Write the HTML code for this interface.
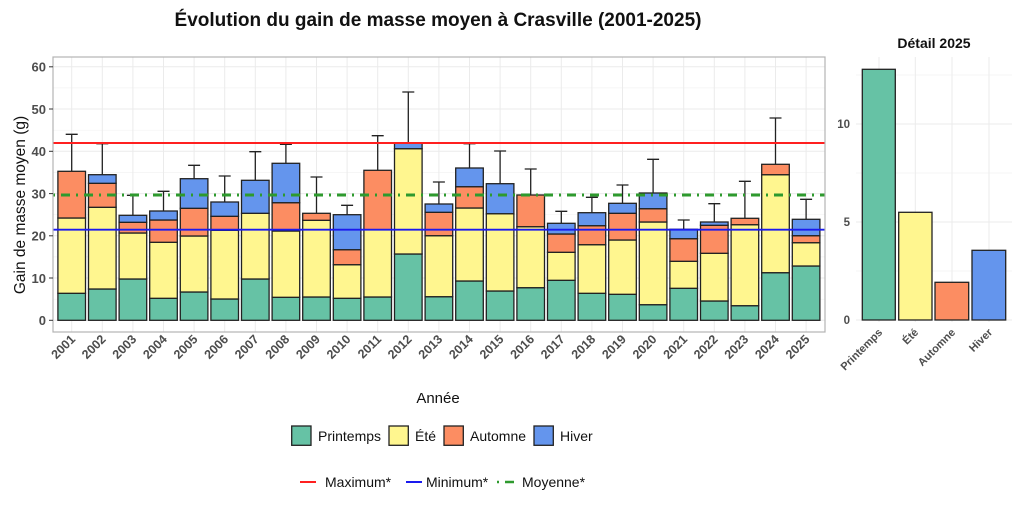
<!DOCTYPE html>
<html><head><meta charset="utf-8"><style>
body{margin:0;background:#fff;}
svg{display:block;font-family:"Liberation Sans",sans-serif;}
.g{stroke:#ebebeb;stroke-width:1}
.gm{stroke:#f3f3f3;stroke-width:0.7}
.s rect{stroke:#222;stroke-width:1.3}
.G{fill:#66c2a5}.Y{fill:#fff68f}.O{fill:#fc8d62}.B{fill:#6495ed}
.yt{font-size:13px;font-weight:bold;fill:#4d4d4d;text-anchor:end}
.xt{font-size:12.5px;font-weight:bold;fill:#4d4d4d;text-anchor:end}
.e{stroke:#222;stroke-width:1.3;fill:none}
</style></head><body>
<svg width="1024" height="512" viewBox="0 0 1024 512">
<rect width="1024" height="512" fill="#fff"/>
<text x="438" y="26" text-anchor="middle" font-size="19" font-weight="bold" fill="#111">Évolution du gain de masse moyen à Crasville (2001-2025)</text>
<!-- main panel -->
<rect x="53" y="57" width="772" height="275" fill="#fff"/>
<g class="gm">
<line x1="53" x2="825" y1="299.2" y2="299.2"/><line x1="53" x2="825" y1="256.9" y2="256.9"/><line x1="53" x2="825" y1="214.7" y2="214.7"/><line x1="53" x2="825" y1="172.4" y2="172.4"/><line x1="53" x2="825" y1="130.2" y2="130.2"/><line x1="53" x2="825" y1="87.9" y2="87.9"/>
</g>
<g class="g">
<line x1="53" x2="825" y1="320.3" y2="320.3"/><line x1="53" x2="825" y1="278" y2="278"/><line x1="53" x2="825" y1="235.8" y2="235.8"/><line x1="53" x2="825" y1="193.6" y2="193.6"/><line x1="53" x2="825" y1="151.3" y2="151.3"/><line x1="53" x2="825" y1="109" y2="109"/><line x1="53" x2="825" y1="66.8" y2="66.8"/>
<line x1="71.7" x2="71.7" y1="57" y2="332"/><line x1="102.3" x2="102.3" y1="57" y2="332"/><line x1="132.9" x2="132.9" y1="57" y2="332"/><line x1="163.5" x2="163.5" y1="57" y2="332"/><line x1="194.1" x2="194.1" y1="57" y2="332"/><line x1="224.7" x2="224.7" y1="57" y2="332"/><line x1="255.3" x2="255.3" y1="57" y2="332"/><line x1="285.9" x2="285.9" y1="57" y2="332"/><line x1="316.5" x2="316.5" y1="57" y2="332"/><line x1="347.1" x2="347.1" y1="57" y2="332"/><line x1="377.7" x2="377.7" y1="57" y2="332"/><line x1="408.3" x2="408.3" y1="57" y2="332"/><line x1="438.9" x2="438.9" y1="57" y2="332"/><line x1="469.5" x2="469.5" y1="57" y2="332"/><line x1="500.1" x2="500.1" y1="57" y2="332"/><line x1="530.7" x2="530.7" y1="57" y2="332"/><line x1="561.3" x2="561.3" y1="57" y2="332"/><line x1="591.9" x2="591.9" y1="57" y2="332"/><line x1="622.5" x2="622.5" y1="57" y2="332"/><line x1="653.1" x2="653.1" y1="57" y2="332"/><line x1="683.7" x2="683.7" y1="57" y2="332"/><line x1="714.3" x2="714.3" y1="57" y2="332"/><line x1="744.9" x2="744.9" y1="57" y2="332"/><line x1="775.5" x2="775.5" y1="57" y2="332"/><line x1="806.1" x2="806.1" y1="57" y2="332"/>
</g>
<!-- error bars -->
<g class="e">
<path d="M71.7 171.3V134.3M65.7 134.3H77.7"/>
<path d="M102.3 174.7V143.7M96.3 143.7H108.3"/>
<path d="M132.9 215.3V195.3M126.9 195.3H138.9"/>
<path d="M163.5 211V191.3M157.5 191.3H169.5"/>
<path d="M194.1 178.7V165.3M188.1 165.3H200.1"/>
<path d="M224.7 202V176M218.7 176H230.7"/>
<path d="M255.3 180.3V151.7M249.3 151.7H261.3"/>
<path d="M285.9 163.3V144.3M279.9 144.3H291.9"/>
<path d="M316.5 213.3V177M310.5 177H322.5"/>
<path d="M347.1 214.7V205.3M341.1 205.3H353.1"/>
<path d="M377.7 170.3V135.7M371.7 135.7H383.7"/>
<path d="M408.3 143.3V92M402.3 92H414.3"/>
<path d="M438.9 204V182M432.9 182H444.9"/>
<path d="M469.5 168V143.7M463.5 143.7H475.5"/>
<path d="M500.1 183.7V151M494.1 151H506.1"/>
<path d="M530.7 195V169M524.7 169H536.7"/>
<path d="M561.3 223.3V211.3M555.3 211.3H567.3"/>
<path d="M591.9 212.7V197.3M585.9 197.3H597.9"/>
<path d="M622.5 203.3V185M616.5 185H628.5"/>
<path d="M653.1 193V159.3M647.1 159.3H659.1"/>
<path d="M683.7 229.3V220M677.7 220H689.7"/>
<path d="M714.3 222V203.7M708.3 203.7H720.3"/>
<path d="M744.9 218.3V181.3M738.9 181.3H750.9"/>
<path d="M775.5 164.3V118M769.5 118H781.5"/>
<path d="M806.1 219.3V199.3M800.1 199.3H812.1"/>
</g>
<g class="s">
<rect class="G" x="57.9" y="293.3" width="27.6" height="27"/><rect class="Y" x="57.9" y="218" width="27.6" height="75.3"/><rect class="O" x="57.9" y="171.3" width="27.6" height="46.7"/>
<rect class="G" x="88.5" y="289" width="27.6" height="31.3"/><rect class="Y" x="88.5" y="207.3" width="27.6" height="81.7"/><rect class="O" x="88.5" y="183.3" width="27.6" height="24"/><rect class="B" x="88.5" y="174.7" width="27.6" height="8.6"/>
<rect class="G" x="119.1" y="279" width="27.6" height="41.3"/><rect class="Y" x="119.1" y="233" width="27.6" height="46"/><rect class="O" x="119.1" y="222.3" width="27.6" height="10.7"/><rect class="B" x="119.1" y="215.3" width="27.6" height="7"/>
<rect class="G" x="149.7" y="298.3" width="27.6" height="22"/><rect class="Y" x="149.7" y="242.3" width="27.6" height="56"/><rect class="O" x="149.7" y="220" width="27.6" height="22.3"/><rect class="B" x="149.7" y="211" width="27.6" height="9"/>
<rect class="G" x="180.3" y="292" width="27.6" height="28.3"/><rect class="Y" x="180.3" y="236" width="27.6" height="56"/><rect class="O" x="180.3" y="208.3" width="27.6" height="27.7"/><rect class="B" x="180.3" y="178.7" width="27.6" height="29.6"/>
<rect class="G" x="210.9" y="299" width="27.6" height="21.3"/><rect class="Y" x="210.9" y="230.3" width="27.6" height="68.7"/><rect class="O" x="210.9" y="216.3" width="27.6" height="14"/><rect class="B" x="210.9" y="202" width="27.6" height="14.3"/>
<rect class="G" x="241.5" y="279" width="27.6" height="41.3"/><rect class="Y" x="241.5" y="213.3" width="27.6" height="65.7"/><rect class="B" x="241.5" y="180.3" width="27.6" height="33"/>
<rect class="G" x="272.1" y="297.3" width="27.6" height="23"/><rect class="Y" x="272.1" y="231" width="27.6" height="66.3"/><rect class="O" x="272.1" y="202.7" width="27.6" height="28.3"/><rect class="B" x="272.1" y="163.3" width="27.6" height="39.4"/>
<rect class="G" x="302.7" y="297" width="27.6" height="23.3"/><rect class="Y" x="302.7" y="220.3" width="27.6" height="76.7"/><rect class="O" x="302.7" y="213.3" width="27.6" height="7"/>
<rect class="G" x="333.3" y="298.3" width="27.6" height="22"/><rect class="Y" x="333.3" y="264.7" width="27.6" height="33.6"/><rect class="O" x="333.3" y="249.7" width="27.6" height="15"/><rect class="B" x="333.3" y="214.7" width="27.6" height="35"/>
<rect class="G" x="363.9" y="297" width="27.6" height="23.3"/><rect class="Y" x="363.9" y="229.7" width="27.6" height="67.3"/><rect class="O" x="363.9" y="170.3" width="27.6" height="59.4"/>
<rect class="G" x="394.5" y="254" width="27.6" height="66.3"/><rect class="Y" x="394.5" y="148.7" width="27.6" height="105.3"/><rect class="B" x="394.5" y="143.3" width="27.6" height="5.4"/>
<rect class="G" x="425.1" y="296.7" width="27.6" height="23.6"/><rect class="Y" x="425.1" y="235.7" width="27.6" height="61"/><rect class="O" x="425.1" y="212.3" width="27.6" height="23.4"/><rect class="B" x="425.1" y="204" width="27.6" height="8.3"/>
<rect class="G" x="455.7" y="281" width="27.6" height="39.3"/><rect class="Y" x="455.7" y="208" width="27.6" height="73"/><rect class="O" x="455.7" y="186.7" width="27.6" height="21.3"/><rect class="B" x="455.7" y="168" width="27.6" height="18.7"/>
<rect class="G" x="486.3" y="291" width="27.6" height="29.3"/><rect class="Y" x="486.3" y="213.7" width="27.6" height="77.3"/><rect class="B" x="486.3" y="183.7" width="27.6" height="30"/>
<rect class="G" x="516.9" y="287.7" width="27.6" height="32.6"/><rect class="Y" x="516.9" y="226.7" width="27.6" height="61"/><rect class="O" x="516.9" y="195" width="27.6" height="31.7"/>
<rect class="G" x="547.5" y="280.3" width="27.6" height="40"/><rect class="Y" x="547.5" y="252.3" width="27.6" height="28"/><rect class="O" x="547.5" y="234" width="27.6" height="18.3"/><rect class="B" x="547.5" y="223.3" width="27.6" height="10.7"/>
<rect class="G" x="578.1" y="293.3" width="27.6" height="27"/><rect class="Y" x="578.1" y="244.7" width="27.6" height="48.6"/><rect class="O" x="578.1" y="225.7" width="27.6" height="19"/><rect class="B" x="578.1" y="212.7" width="27.6" height="13"/>
<rect class="G" x="608.7" y="294.3" width="27.6" height="26"/><rect class="Y" x="608.7" y="240" width="27.6" height="54.3"/><rect class="O" x="608.7" y="213.3" width="27.6" height="26.7"/><rect class="B" x="608.7" y="203.3" width="27.6" height="10"/>
<rect class="G" x="639.3" y="304.7" width="27.6" height="15.6"/><rect class="Y" x="639.3" y="222" width="27.6" height="82.7"/><rect class="O" x="639.3" y="208.7" width="27.6" height="13.3"/><rect class="B" x="639.3" y="193" width="27.6" height="15.7"/>
<rect class="G" x="669.9" y="288.3" width="27.6" height="32"/><rect class="Y" x="669.9" y="261.3" width="27.6" height="27"/><rect class="O" x="669.9" y="238.7" width="27.6" height="22.6"/><rect class="B" x="669.9" y="229.3" width="27.6" height="9.4"/>
<rect class="G" x="700.5" y="301" width="27.6" height="19.3"/><rect class="Y" x="700.5" y="253.3" width="27.6" height="47.7"/><rect class="O" x="700.5" y="225.3" width="27.6" height="28"/><rect class="B" x="700.5" y="222" width="27.6" height="3.3"/>
<rect class="G" x="731.1" y="305.7" width="27.6" height="14.6"/><rect class="Y" x="731.1" y="224.7" width="27.6" height="81"/><rect class="O" x="731.1" y="218.3" width="27.6" height="6.4"/>
<rect class="G" x="761.7" y="272.7" width="27.6" height="47.6"/><rect class="Y" x="761.7" y="174.7" width="27.6" height="98"/><rect class="O" x="761.7" y="164.3" width="27.6" height="10.4"/>
<rect class="G" x="792.3" y="266" width="27.6" height="54.3"/><rect class="Y" x="792.3" y="242.7" width="27.6" height="23.3"/><rect class="O" x="792.3" y="235.7" width="27.6" height="7"/><rect class="B" x="792.3" y="219.3" width="27.6" height="16.4"/>
</g>
<line x1="53" x2="825" y1="143" y2="143" stroke="#ff2020" stroke-width="2"/>
<line x1="53" x2="825" y1="229.7" y2="229.7" stroke="#1a1aee" stroke-width="1.8"/>
<line x1="53" x2="825" y1="195" y2="195" stroke="#2e9a2e" stroke-width="3" stroke-dasharray="2,6,9,6"/>
<rect x="53" y="57" width="772" height="275" fill="none" stroke="#b3b3b3" stroke-width="1.2"/>
<g class="yt">
<text x="46" y="325">0</text><text x="46" y="283">10</text><text x="46" y="240.5">20</text><text x="46" y="198.5">30</text><text x="46" y="156">40</text><text x="46" y="114">50</text><text x="46" y="71.5">60</text>
</g>
<g stroke="#333" stroke-width="1">
<line x1="49" x2="53" y1="320.3" y2="320.3"/><line x1="49" x2="53" y1="278" y2="278"/><line x1="49" x2="53" y1="235.8" y2="235.8"/><line x1="49" x2="53" y1="193.6" y2="193.6"/><line x1="49" x2="53" y1="151.3" y2="151.3"/><line x1="49" x2="53" y1="109" y2="109"/><line x1="49" x2="53" y1="66.8" y2="66.8"/>
</g>
<g class="xt">
<text transform="translate(76,340) rotate(-45)">2001</text><text transform="translate(106.6,340) rotate(-45)">2002</text><text transform="translate(137.2,340) rotate(-45)">2003</text><text transform="translate(167.8,340) rotate(-45)">2004</text><text transform="translate(198.4,340) rotate(-45)">2005</text><text transform="translate(229,340) rotate(-45)">2006</text><text transform="translate(259.6,340) rotate(-45)">2007</text><text transform="translate(290.2,340) rotate(-45)">2008</text><text transform="translate(320.8,340) rotate(-45)">2009</text><text transform="translate(351.4,340) rotate(-45)">2010</text><text transform="translate(382,340) rotate(-45)">2011</text><text transform="translate(412.6,340) rotate(-45)">2012</text><text transform="translate(443.2,340) rotate(-45)">2013</text><text transform="translate(473.8,340) rotate(-45)">2014</text><text transform="translate(504.4,340) rotate(-45)">2015</text><text transform="translate(535,340) rotate(-45)">2016</text><text transform="translate(565.6,340) rotate(-45)">2017</text><text transform="translate(596.2,340) rotate(-45)">2018</text><text transform="translate(626.8,340) rotate(-45)">2019</text><text transform="translate(657.4,340) rotate(-45)">2020</text><text transform="translate(688,340) rotate(-45)">2021</text><text transform="translate(718.6,340) rotate(-45)">2022</text><text transform="translate(749.2,340) rotate(-45)">2023</text><text transform="translate(779.8,340) rotate(-45)">2024</text><text transform="translate(810.4,340) rotate(-45)">2025</text>
</g>
<text transform="translate(25,205) rotate(-90)" text-anchor="middle" font-size="15.5" fill="#111">Gain de masse moyen (g)</text>
<text x="438" y="403" text-anchor="middle" font-size="15" fill="#111">Année</text>
<!-- right panel -->
<text x="934" y="48" text-anchor="middle" font-size="14" font-weight="bold" fill="#111">Détail 2025</text>
<g class="gm"><line x1="856" x2="1012" y1="271" y2="271"/><line x1="856" x2="1012" y1="173" y2="173"/><line x1="856" x2="1012" y1="75" y2="75"/></g>
<g class="g"><line x1="856" x2="1012" y1="320" y2="320"/><line x1="856" x2="1012" y1="222" y2="222"/><line x1="856" x2="1012" y1="124" y2="124"/>
<line x1="879" x2="879" y1="57" y2="322"/><line x1="915.3" x2="915.3" y1="57" y2="322"/><line x1="952" x2="952" y1="57" y2="322"/><line x1="989" x2="989" y1="57" y2="322"/></g>
<g class="s">
<rect class="G" x="862.3" y="69.3" width="33" height="250.7"/>
<rect class="Y" x="898.7" y="212.3" width="33.3" height="107.7"/>
<rect class="O" x="935" y="282.3" width="33.7" height="37.7"/>
<rect class="B" x="972" y="250.3" width="33.7" height="69.7"/>
</g>
<g class="yt" style="font-size:11.5px"><text x="850" y="324">0</text><text x="850" y="226">5</text><text x="850" y="128">10</text></g>
<g class="xt" style="font-size:11px">
<text transform="translate(883,333) rotate(-45)">Printemps</text><text transform="translate(919,333) rotate(-45)">Été</text><text transform="translate(956,333) rotate(-45)">Automne</text><text transform="translate(993,333) rotate(-45)">Hiver</text>
</g>
<!-- legends -->
<g stroke="#222" stroke-width="1.3">
<rect class="G" x="291.7" y="426" width="19.3" height="19.3"/>
<rect class="Y" x="389" y="426" width="19.3" height="19.3"/>
<rect class="O" x="444" y="426" width="19.3" height="19.3"/>
<rect class="B" x="534" y="426" width="19.3" height="19.3"/>
</g>
<g font-size="14" fill="#111">
<text x="318" y="441">Printemps</text><text x="415" y="441">Été</text><text x="470" y="441">Automne</text><text x="560" y="441">Hiver</text>
<text x="325" y="487">Maximum*</text><text x="426" y="487">Minimum*</text><text x="522" y="487">Moyenne*</text>
</g>
<line x1="300" x2="316" y1="482" y2="482" stroke="#ff2020" stroke-width="2"/>
<line x1="406" x2="422" y1="482" y2="482" stroke="#1a1aee" stroke-width="2"/>
<line x1="497" x2="514" y1="482" y2="482" stroke="#2e9a2e" stroke-width="2.5" stroke-dasharray="2,6,9,6"/>
</svg>
</body></html>
